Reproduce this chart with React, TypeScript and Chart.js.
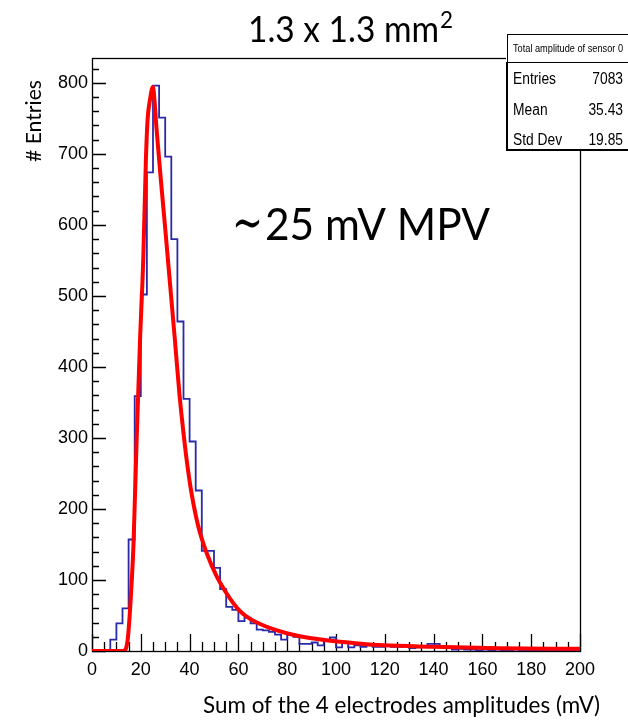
import React, { useEffect, useRef } from "react";
import { Chart, registerables } from "chart.js";

Chart.register(...registerables);

// Histogram: lower bin edges (mV) and counts
const binEdges = [
  0, 2.5, 5, 7.5, 10, 12.5, 15, 17.5, 20, 22.5, 25, 27.5, 30, 32.5, 35, 37.5, 40, 42.5, 45, 47.5,
  50, 52.5, 55, 57.5, 60, 62.5, 65, 67.5, 70, 72.5, 75, 77.5, 80, 82.5, 85, 87.5, 90, 92.5, 95, 97.5,
  100, 102.5, 105, 107.5, 110, 112.5, 115, 117.5, 120, 122.5, 125, 127.5, 130, 132.5, 135, 137.5, 140, 142.5, 145, 147.5,
  150, 152.5, 155, 157.5, 160, 162.5, 165, 167.5, 170, 172.5, 175, 177.5, 180, 182.5, 185, 187.5, 190, 192.5, 195, 197.5,
];
const binCounts = [
  0, 0, 0, 16, 39, 60, 157, 359, 502, 674, 796, 751, 696, 580, 464, 355, 295, 226, 141, 141,
  117, 87, 62, 58, 42, 47, 39, 30, 29, 27, 23, 16, 23, 20, 10, 10, 12, 8, 16, 19,
  5, 11, 5, 8, 6, 8, 6, 6, 7, 6, 6, 7, 4, 5, 6, 10, 10, 5, 4, 2,
  3, 2, 2, 1, 2, 1, 2, 1, 1, 2, 1, 1, 0, 1, 1, 0, 1, 0, 1, 0,
];
const histUpperEdge = 200;

// Fitted (Landau-like) curve
const fitX = [0, 12.8, 14.6, 16.0, 17.0, 18.3, 19.7, 21.0, 22.1, 22.8, 23.8, 24.9, 26.5, 28.0, 30.0, 32.0, 34.0, 35.8, 37.2, 38.8, 40.8, 43.6, 47.0, 51.1, 55.2, 58.0, 60.7, 64.0, 68.9, 74.0, 79.8, 88.0, 98.9, 108.0, 119.4, 139.9, 167, 200];
const fitY = [0, 0, 15, 81, 150, 298, 439, 551, 693, 749, 777, 794, 733, 672, 595, 516, 437, 363, 316, 269, 222, 175, 138, 105, 81, 67, 56, 47, 38, 31, 25, 19, 14, 11, 8, 6, 4, 3];

const xTickValues = [0, 20, 40, 60, 80, 100, 120, 140, 160, 180, 200];
const yTickValues = [0, 100, 200, 300, 400, 500, 600, 700, 800];
const xMin = 0;
const xMax = 200;
const yMin = 0;
const yMax = 835;

const titleMain = "1.3 x 1.3 mm";
const titleSup = "2";
const annotationTilde = "\u223C";
const annotationText = "25 mV MPV";
const xTitle = "Sum of the 4 electrodes amplitudes (mV)";
const yTitle = "# Entries";
const statsTitle = "Total amplitude of sensor 0";
const statsLabels = ["Entries", "Mean", "Std Dev"];
const statsValues = ["7083", "35.43", "19.85"];

const SANS = "Lato, 'Open Sans', sans-serif";
const ARIAL = "'Liberation Sans', Arial, sans-serif";

function drawFitted(
  ctx: CanvasRenderingContext2D,
  text: string,
  x: number,
  y: number,
  font: string,
  targetW: number | null,
  align: CanvasTextAlign = "left"
) {
  ctx.save();
  ctx.font = font;
  const w = ctx.measureText(text).width;
  const sx = targetW ? targetW / w : 1;
  ctx.translate(x, y);
  ctx.scale(sx, 1);
  ctx.textAlign = align;
  ctx.textBaseline = "alphabetic";
  ctx.fillStyle = "#000";
  ctx.fillText(text, 0, 0);
  ctx.restore();
}

const rootPlugin = {
  id: "rootStyle",
  beforeDatasetsDraw(chart: any) {
    const ctx: CanvasRenderingContext2D = chart.ctx;
    const { left, right, top, bottom } = chart.chartArea;
    const xs = chart.scales.x;
    const ys = chart.scales.y;
    ctx.save();
    ctx.strokeStyle = "#000";
    ctx.lineWidth = 1.3;
    ctx.strokeRect(Math.round(left) + 0.5, Math.round(top) + 0.5, Math.round(right - left), Math.round(bottom - top));
    ctx.beginPath();
    for (let v = yMin; v <= yMax; v += 20) {
      const py = Math.round(ys.getPixelForValue(v)) + 0.5;
      const len = v % 100 === 0 ? 14 : 7;
      ctx.moveTo(left, py);
      ctx.lineTo(left + len, py);
    }
    for (let v = xMin; v <= xMax; v += 5) {
      const px = Math.round(xs.getPixelForValue(v)) + 0.5;
      const len = v % 20 === 0 ? 17 : 9;
      ctx.moveTo(px, bottom);
      ctx.lineTo(px, bottom - len);
    }
    ctx.stroke();
    ctx.restore();
  },
  afterDraw(chart: any) {
    const ctx: CanvasRenderingContext2D = chart.ctx;
    drawFitted(ctx, titleMain, 248, 42, `36px ${SANS}`, 191);
    drawFitted(ctx, titleSup, 440, 28, `23px ${SANS}`, 13);
    drawFitted(ctx, annotationTilde, 232, 240, `52px 'DejaVu Serif', 'Liberation Serif', serif`, 31);
    drawFitted(ctx, annotationText, 265, 240, `45px ${SANS}`, 225);
    drawFitted(ctx, xTitle, 203, 713, `23px ${SANS}`, 397);
    ctx.save();
    ctx.translate(41, 162);
    ctx.rotate(-Math.PI / 2);
    drawFitted(ctx, yTitle, 0, 0, `22px ${SANS}`, 82);
    ctx.restore();

    // Stats box
    ctx.save();
    ctx.fillStyle = "#fff";
    ctx.fillRect(506, 34, 130, 117);
    ctx.strokeStyle = "#000";
    ctx.lineWidth = 1;
    ctx.strokeRect(507.5, 34.5, 130, 28);
    ctx.beginPath();
    ctx.moveTo(506.5, 62.5);
    ctx.lineTo(640, 62.5);
    ctx.stroke();
    ctx.lineWidth = 2;
    ctx.beginPath();
    ctx.moveTo(507, 62);
    ctx.lineTo(507, 150);
    ctx.lineTo(640, 150);
    ctx.stroke();
    ctx.restore();
    drawFitted(ctx, statsTitle, 513, 52, `10px ${ARIAL}`, 110);
    const rowsY = [83.5, 114.5, 144.5];
    const rowFont = `16px ${ARIAL}`;
    ctx.save();
    ctx.font = rowFont;
    const sx = 43 / ctx.measureText(statsLabels[0]).width;
    const labW = statsLabels.map((s) => ctx.measureText(s).width * sx);
    const valW = statsValues.map((s) => ctx.measureText(s).width * sx);
    ctx.restore();
    statsLabels.forEach((lab, i) => {
      drawFitted(ctx, lab, 513, rowsY[i], rowFont, labW[i]);
      drawFitted(ctx, statsValues[i], 623, rowsY[i], rowFont, valW[i], "right");
    });
  },
};

export default function App() {
  const canvasRef = useRef<HTMLCanvasElement | null>(null);

  useEffect(() => {
    const canvas = canvasRef.current;
    if (!canvas) return;
    const histData = binEdges.map((x, i) => ({ x, y: binCounts[i] }));
    histData.push({ x: histUpperEdge, y: binCounts[binCounts.length - 1] });
    const fitData = fitX.map((x, i) => ({ x, y: fitY[i] }));

    const chart = new Chart(canvas, {
      type: "line",
      data: {
        datasets: [
          {
            label: "fit",
            data: fitData,
            borderColor: "#ff0000",
            borderWidth: 4,
            pointRadius: 0,
            fill: false,
            cubicInterpolationMode: "monotone",
          },
          {
            label: "hist",
            data: histData,
            borderColor: "#2a2aa8",
            borderWidth: 1.8,
            pointRadius: 0,
            fill: false,
            stepped: true,
          },
        ],
      },
      options: {
        animation: false,
        responsive: false,
        devicePixelRatio: 1,
        layout: { padding: { left: 0, top: 58, right: 48, bottom: 0 }, autoPadding: false },
        plugins: { legend: { display: false }, tooltip: { enabled: false }, title: { display: false } },
        scales: {
          x: {
            type: "linear",
            min: xMin,
            max: xMax,
            grid: { display: false, drawTicks: false },
            border: { display: false },
            afterFit: (s: any) => {
              s.height = 70;
            },
            afterBuildTicks: (s: any) => {
              s.ticks = xTickValues.map((v) => ({ value: v }));
            },
            ticks: {
              autoSkip: false,
              maxRotation: 0,
              padding: 8,
              color: "#000",
              font: { family: ARIAL, size: 18 },
            },
          },
          y: {
            type: "linear",
            min: yMin,
            max: yMax,
            grid: { display: false, drawTicks: false },
            border: { display: false },
            afterFit: (s: any) => {
              s.width = 92;
            },
            afterBuildTicks: (s: any) => {
              s.ticks = yTickValues.map((v) => ({ value: v }));
            },
            ticks: {
              padding: 4,
              color: "#000",
              font: { family: ARIAL, size: 18 },
            },
          },
        },
      },
      plugins: [rootPlugin],
    });
    return () => chart.destroy();
  }, []);

  return (
    <div style={{ position: "absolute", left: 0, top: 0, width: 628, height: 721, background: "#fff" }}>
      <canvas ref={canvasRef} width={628} height={721} style={{ display: "block", width: 628, height: 721 }} />
    </div>
  );
}
